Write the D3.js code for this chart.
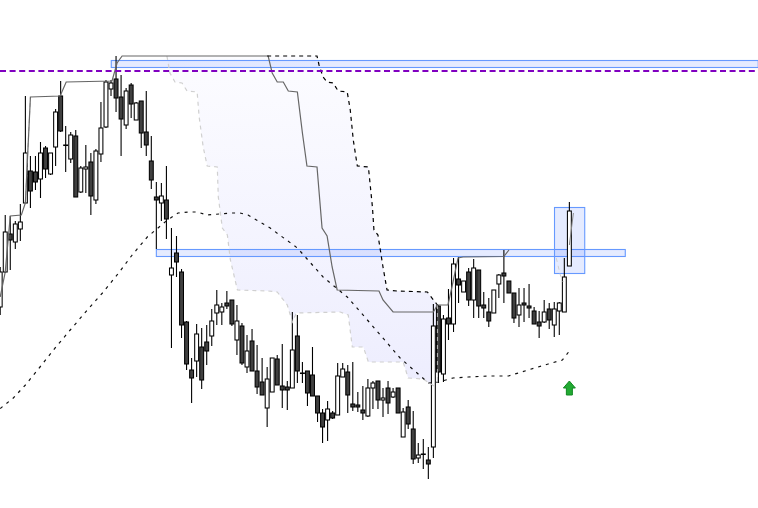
<!DOCTYPE html>
<html><head><meta charset="utf-8">
<script src="https://cdn.jsdelivr.net/npm/d3@7"></script>
<style>html,body{margin:0;padding:0;background:#fff;overflow:hidden}svg{display:block}</style>
</head><body><svg id="c" width="758" height="508"></svg>
<script>
// Values are read off the picture, on a price scale with no labels, counted downward.
const opens=[307,272,234,242,229,203,171,172,179,148,174,147,96,145,159,136,192,169,162,200,154,127,89,79,97,125,85,120,101,132,161,197,203,200,275,253,272,322,370,361,347,342,336,313,312,303,300,340,326,367,341,371,382,408,392,359,386,387,388,336,373,371,375,396,413,420,413,415,377,372,404,405,410,416,388,381,400,388,397,388,437,407,429,458,454,460,447,306,374,318,324,279,292,272,300,270,305,312,313,284,273,281,293,315,303,306,311,322,322,309,325,311,312,266];
const closes=[272,232,240,224,222,153,191,182,153,169,153,112,131,145.5,135,197,168,167,196,151,128,82,83,98,119,91,104,103,133,145,180,200,196,219,268,262,325,364,378,334,380,351,321,305,307,306,324,321,363,351,371,387,395,379,358,385,390,390,350,371,373.5,393,396,413,427,409,418,376,369,395,407,407,413,388,383,400,398,403,392,413,412,424,459,455,454.5,464,326,372,319,324,264,285,281,300,268,306,308,321,290,275,276,293,318,305,305,308,324,326,312,320,309,303,277,211];
const highs=[267,215,216,221,204,96,156,156,142,146,153,109,81,126,132,130,166,145,153,149,102,80,80,56,75,88,83,102,101,91,136,182,183,166,228,236,269,321,358,324,328,325,309,290,303,291,300,305,323,335,329,345,358,367,358,355,344,381,312,315,362,371,347,396,409,401,411,363,363,365,362,392,386,379,381,381,388,381,388,388,408,400,411,443,439,447,304,305,315,289,258,257,281,268,259,270,292,298,290,274,250,281,293,288,288,284,307,311,300,303,302,302,258,202];
const lows=[315,273,270,249,241,203,208,190,198,178,175,166,132,172,163,197,193,193,215,204,162,128,96,112,156,129,118,120,148,156,189,249,221,239,348,277,338,370,403,377,389,365,346,325,325,309,326,355,365,373,371,394,395,427,392,385,408,410,388,383,383,406,396,422,443,441,419,415,377,413,411,412,420,417,409,409,417,414,398,413,437,429,464,463,469,479,458,383,382,340,332,303,292,306,318,318,318,327,313,298,303,293,323,327,322,318,324,338,323,329,337,335,312,266];

// Reference levels and zones
const dashedLevel=71;
const zoneStartBar=[22.05,31,110.05], zoneEndBar=[150.5,124.1,116.05], zoneTop=[60.5,249.5,207.5], zoneBottom=[67.5,256.5,273.5];

// Lines: bar position and level at each vertex
const maBars=[0,2.6,5,7.9,10.9,13.9,17.3,20.3,23.2,26.2,29.2,33.2,35.3,37.3,39.1,41.1,45.7,47.6,49.2,53.6,59,64.1,68.9,72.9,79.4,85,87,89.9,92.9,96.9,100.9,104.8,108.8,111.6,113];
const maLevels=[408.5,398,385,367,348,330,310,293,275,255,237,220,213,212,212,215,213,213,215,228,248,277,297,320,358,383,382,378,377,376,376,370,364,360,351];
const upperBars=[53,62.9,63.3,64.1,64.9,66.1,67.1,68.9,69.5,70.1,70.9,73.1,73.9,74.2,75,76,76.8,78.8,84.8,86.8];
const upperLevels=[56,56,65,77,82,83,91,92,110,140,166,167,207,230,235,267,290,291,292,305];
const lowerBars=[33.1,33.7,34.7,36.1,37.1,39.1,39.5,40.3,41.1,43.1,43.3,44.1,45.1,45.7,47.1,53.2,55,57,58,58.8,67.5,69.1,69.9,72.1,73.1,80,81,84,86.4];
const lowerLevels=[56,73,82,83,91,92,117,147,166,167,197,228,235,260,290,291,292,305,322,313,312,315,347,347,362,362,378,379,387];
const midBars=[0,1,2,4.2,5,6,11.9,13.1,22.2,23.2,24.2,53.2,54,55,56.2,57.2,59,60,60.9,62.9,63.9,64.9,65.9,66.9,75.2,76,78,86,86.8,88.9,89.9,90.9,91.9,100,101];
const midLevels=[297,272,216,215,203,97,96,82,81,63,56,56,73,82,82,91,92,133,166,167,228,236,267,290,291,300,312,312,305,305,282,258,257,256.5,250];
const tailBars=[113,113.8], tailLevels=[245,213];
const fadeBars=[110.4,111.2,111.8], fadeLevels=[258,275,282];
const closeBars=[86.8,86.8], closeLevels=[305,383];
const slopeBars=[5,6], slopeLevels=[203,97];

// Signal arrow: bar and level of its tip
const signalBar=113, signalLevel=381;

const W=758,H=508;
const x=d3.scaleLinear().domain([0,150.45]).range([0.2,758]);
const y=d3.scaleLinear().domain([0,508]).range([0,508]);
const svg=d3.select('#c');
const zipLine=(bs,ls)=>bs.map((b,i)=>[b,ls[i]]);
const line=d3.line().x(d=>x(d[0])).y(d=>y(d[1]));

const grad=svg.append('defs').append('linearGradient').attr('id','cloud')
  .attr('gradientUnits','userSpaceOnUse').attr('x1',0).attr('x2',0).attr('y1',y(56)).attr('y2',y(387));
grad.append('stop').attr('offset',0).attr('stop-color','#fcfcff');
grad.append('stop').attr('offset',1).attr('stop-color','#ededfe');

const upper=zipLine(upperBars,upperLevels), lower=zipLine(lowerBars,lowerLevels);
svg.append('path').attr('d',line(upper.concat(lower.slice().reverse()))+'Z').attr('fill','url(#cloud)');

// zones
svg.append('g').selectAll('rect').data(zoneStartBar).join('rect')
  .attr('x',(d,i)=>x(d)).attr('width',(d,i)=>x(zoneEndBar[i])-x(d))
  .attr('y',(d,i)=>y(zoneTop[i])).attr('height',(d,i)=>y(zoneBottom[i])-y(zoneTop[i]))
  .attr('fill','rgba(51,102,255,0.13)').attr('stroke','#6699ff').attr('stroke-width',1.1);

// candles
const bars=d3.range(opens.length);
const g=svg.append('g');
g.selectAll('line').data(bars).join('line')
  .attr('x1',i=>x(i)).attr('x2',i=>x(i)).attr('y1',i=>y(highs[i])).attr('y2',i=>y(lows[i]))
  .attr('stroke','#000').attr('stroke-width',1.1);
g.selectAll('rect').data(bars).join('rect')
  .attr('x',i=>x(i)-1.95).attr('width',3.9)
  .attr('y',i=>y(Math.min(opens[i],closes[i])))
  .attr('height',i=>Math.abs(y(opens[i])-y(closes[i])))
  .attr('fill',i=>closes[i]<opens[i]?'#fff':'#404040')
  .attr('stroke','#000').attr('stroke-width',1.05);

// lines
const add=(bs,ls,stroke,w,dash)=>svg.append('path').attr('d',line(zipLine(bs,ls)))
  .attr('fill','none').attr('stroke',stroke).attr('stroke-width',w).attr('stroke-dasharray',dash||null);
add(lowerBars,lowerLevels,'#d0d0d0',1.2,'4 4');
add(closeBars,closeLevels,'#bbbbbb',1,'4 4');
add(slopeBars,slopeLevels,'#c0c0c0',1,'4 4');
add(fadeBars,fadeLevels,'#d0d0d0',1,'4 4');
add(midBars,midLevels,'#666666',1.2);
add(tailBars,tailLevels,'#888888',1);
add(upperBars,upperLevels,'#000',1.2,'4 4');
add(maBars,maLevels,'#111',1.2,'3 5');

// purple level
svg.append('line').attr('x1',0).attr('x2',W).attr('y1',y(dashedLevel)).attr('y2',y(dashedLevel))
  .attr('stroke','#8000c0').attr('stroke-width',2).attr('stroke-dasharray','6 3.6');

// arrow
const ax=x(signalBar), ay=y(signalLevel);
const arrow=[[0,0],[6,7],[3,7],[3,14],[-3,14],[-3,7],[-6,7]];
svg.append('polygon').attr('points',arrow.map(p=>[ax+p[0],ay+p[1]].join(',')).join(' '))
  .attr('fill','#22aa33').attr('stroke','#118822').attr('stroke-width',1);
</script></body></html>
